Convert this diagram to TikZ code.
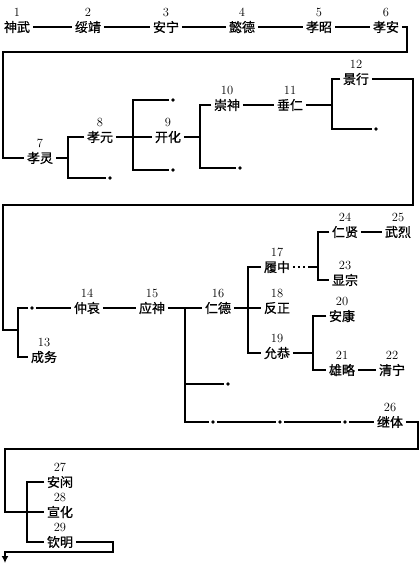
\documentclass[tikz,border=0pt]{standalone}
\usepackage{fontspec}
\newfontfamily\cjk[FakeBold=0.8]{Noto Sans CJK SC}
\usetikzlibrary{arrows.meta}
\begin{document}
\begin{tikzpicture}[x=1pt,y=-1pt,
  line width=1.5pt,
  emp/.style={font=\cjk\fontsize{13}{13}\selectfont, inner sep=2pt},
  num/.style={font=\fontsize{12.5}{12.5}\selectfont, inner sep=0pt},
  tip/.style={circle,fill,inner sep=0pt,minimum size=3.8pt,outer sep=2pt},
  label distance=1pt,
  dotline/.style={dash pattern=on 2.2pt off 3pt},
]
\useasboundingbox (0,0) rectangle (420,563);
% row 1
\node[emp,label={[num]above:1}] (n1) at (17,27) {神武};
\node[emp,label={[num]above:2}] (n2) at (88,27) {绥靖};
\node[emp,label={[num]above:3}] (n3) at (166,27) {安宁};
\node[emp,label={[num]above:4}] (n4) at (242,27) {懿德};
\node[emp,label={[num]above:5}] (n5) at (319,27) {孝昭};
\node[emp,label={[num]above:6}] (n6) at (386,27) {孝安};
\draw (n1) -- (n2);
\draw (n2) -- (n3);
\draw (n3) -- (n4);
\draw (n4) -- (n5);
\draw (n5) -- (n6);
\coordinate (a1) at (407,52);
\coordinate (a2) at (3,52);
% row 2
\node[emp,label={[num]above:7}] (n7) at (40,158) {孝灵};
\node[emp,label={[num]above:8}] (n8) at (100,137) {孝元};
\node[emp,label={[num]above:9}] (n9) at (168,137) {开化};
\node[emp,label={[num]above:10}] (n10) at (227,105) {崇神};
\node[emp,label={[num]above:11}] (n11) at (290,105) {垂仁};
\node[emp,label={[num]above:12}] (n12) at (356,79) {景行};
\draw (n6.east) -| (a1) -- (a2) |- (n7.west);
\coordinate (j7) at (68,158);
\node[tip] (d7) at (110,178) {};
\draw (n7) -- (j7);
\draw (n8.west) -| (j7) |- (d7);
\coordinate (j8) at (133,137);
\node[tip] (d8a) at (173,100) {};
\node[tip] (d8b) at (173,170) {};
\draw (n8) -- (n9);
\draw (d8a) -| (j8) |- (d8b);
\coordinate (j9) at (200,137);
\node[tip] (d9) at (240,168) {};
\draw (n9) -- (j9);
\draw (n10.west) -| (j9) |- (d9);
\draw (n10) -- (n11);
\coordinate (j11) at (332,105);
\node[tip] (d11) at (376,129) {};
\draw (n11) -- (j11);
\draw (n12.west) -| (j11) |- (d11);
% row 3
\coordinate (b1) at (413,205);
\coordinate (b2) at (3,205);
\coordinate (j13) at (18,330);
\node[tip] (d13) at (32,308) {};
\node[emp,label={[num]above:13}] (n13) at (44,357) {成务};
\draw (n12.east) -| (b1) -- (b2) |- (j13);
\draw (d13) -| (j13) |- (n13.west);
\node[emp,label={[num]above:14}] (n14) at (87,308) {仲哀};
\node[emp,label={[num]above:15}] (n15) at (152,308) {应神};
\node[emp,label={[num]above:16}] (n16) at (218,308) {仁德};
\draw (d13) -- (n14);
\draw (n14) -- (n15);
\draw (n15) -- (n16);
\node[emp,label={[num]above:17}] (n17) at (277,267) {履中};
\node[emp,label={[num]above:18}] (n18) at (277,308) {反正};
\node[emp,label={[num]above:19}] (n19) at (277,353) {允恭};
\coordinate (j16) at (248,308);
\draw (n16) -- (n18);
\draw (n17.west) -| (j16) |- (n19.west);
\node[emp,label={[num]above:24}] (n24) at (345,232) {仁贤};
\node[emp,label={[num]above:25}] (n25) at (398,232) {武烈};
\node[emp,label={[num]above:23}] (n23) at (345,280) {显宗};
\coordinate (m17) at (309,267);
\coordinate (j17) at (318,267);
\draw[dotline] (n17.east) -- (m17);
\draw (m17) -- (j17);
\draw (n24.west) -| (j17) |- (n23.west);
\draw (n24) -- (n25);
\node[emp,label={[num]above:20}] (n20) at (342,316) {安康};
\node[emp,label={[num]above:21}] (n21) at (342,370) {雄略};
\node[emp,label={[num]above:22}] (n22) at (392,370) {清宁};
\coordinate (j19) at (313,353);
\draw (n19) -- (j19);
\draw (n20.west) -| (j19) |- (n21.west);
\draw (n21) -- (n22);
% branches under 15
\coordinate (j15) at (185,308);
\node[tip] (d15) at (228,384) {};
\node[tip] (e1) at (213,422) {};
\node[tip] (e2) at (280,422) {};
\node[tip] (e3) at (345,422) {};
\node[emp,label={[num]above:26}] (n26) at (390,422) {继体};
\draw (j15) |- (d15);
\draw (j15) |- (e1);
\draw (e1) -- (e2);
\draw (e2) -- (e3);
\draw (e3) -- (n26);
% row 4
\coordinate (c1) at (418,449);
\coordinate (c2) at (5,449);
\node[emp,label={[num]above:27}] (n27) at (60,482) {安闲};
\node[emp,label={[num]above:28}] (n28) at (60,512) {宣化};
\node[emp,label={[num]above:29}] (n29) at (60,542) {钦明};
\coordinate (j28) at (27,512);
\draw (n26.east) -| (c1) -- (c2) |- (n28.west);
\draw (n27.west) -| (j28) |- (n29.west);
\coordinate (k1) at (113,552);
\coordinate (k2) at (5,552);
\coordinate (k3) at (5,563);
\draw[-{Latex[length=7pt,width=7pt]}] (n29.east) -| (k1) -- (k2) -- (k3);
\end{tikzpicture}
\end{document}
